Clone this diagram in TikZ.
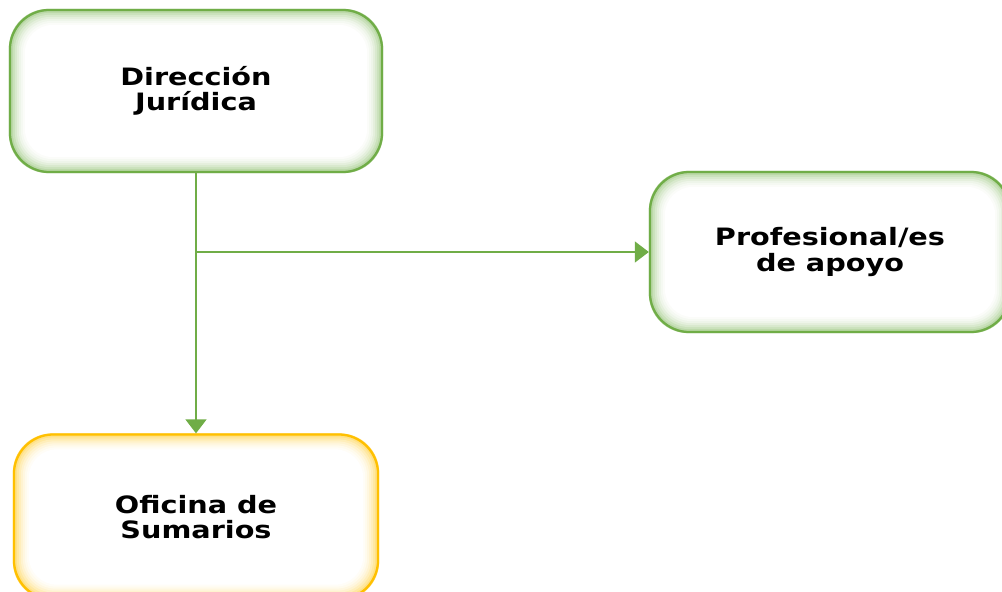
\documentclass[tikz,border=0pt]{standalone}
\usepackage{fontspec}
\newfontfamily\boxfont[FakeStretch=1.2]{DejaVu Sans}
\usetikzlibrary{arrows.meta, positioning, backgrounds}
\definecolor{boxgreen}{HTML}{70AD47}
\definecolor{boxgold}{HTML}{FFC000}
\tikzset{ % global config
    x=0.025cm, y=-0.025cm, % one unit is one pixel of the reference
    >={Triangle[width=15pt,length=10pt]}, % filled arrow heads
    unit/.style={draw=#1, line width=1.6pt, rounded corners=28pt, align=center,
        inner sep=0pt, font=\boxfont\bfseries\fontsize{17}{18}\selectfont}, % every box
    link/.style={->, draw=boxgreen, fill=boxgreen, line width=1.1pt}, % connectors
}
\newcommand{\glow}[2]{% inner glow of a box
    \begin{scope}[on background layer]
        \foreach \d/\t in {0/60,2/48,4/37,6/27,8/19,10/12,12/7,14/3,16/0}
            \fill[#2!\t!white, rounded corners=28pt-\d*0.5pt]
                ([shift={(\d,\d)}]#1.north west) rectangle ([shift={(-\d,-\d)}]#1.south east);
    \end{scope}}

\begin{document}
\begin{tikzpicture}
    \useasboundingbox (0,0) rectangle (1002,592);

    \node[unit=boxgreen, minimum width=9.3cm, minimum height=4.05cm] (dj) at (196,91) {Dirección\\Jurídica};
    \node[unit=boxgreen, minimum width=9cm, minimum height=4cm] (pa) at (830,252) {Profesional/es\\de apoyo};
    \node[unit=boxgold, minimum width=9.1cm, minimum height=4.125cm] (os) at (196,517) {Oficina de\\Sumarios};
    \glow{dj}{boxgreen}
    \glow{pa}{boxgreen}
    \glow{os}{boxgold}

    \coordinate (split) at (dj.south |- pa.west);
    \draw[link] (dj.south) -- (os.north);
    \draw[link] (split) -- (pa.west);

\end{tikzpicture}
\end{document}
